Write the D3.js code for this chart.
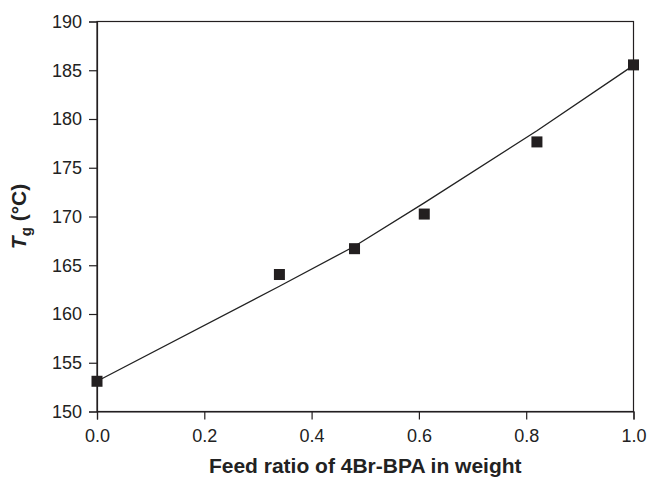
<!DOCTYPE html>
<html>
<head>
<meta charset="utf-8" />
<script src="https://cdn.jsdelivr.net/npm/d3@7"></script>
<style>
  body { margin: 0; background: #fff; }
  text { font-family: "Liberation Sans", Arial, sans-serif; }
</style>
</head>
<body>
<div id="chart"></div>
<script>
// measured values
const feedRatio = [0, 0.34, 0.48, 0.61, 0.82, 1.0];
const tgMeasured = [153.1, 164.05, 166.7, 170.25, 177.65, 185.55];
// fitted curve, evaluated at the same ratios
const tgFit = [153.1, 162.85, 166.95, 171.4, 178.8, 185.5];

const xTicks = [0, 0.2, 0.4, 0.6, 0.8, 1.0];
const yTicks = [150, 155, 160, 165, 170, 175, 180, 185, 190];

const width = 647;
const height = 478;
const margin = { top: 21.5, right: 13.5, bottom: 66.5, left: 97 };

const svg = d3.select("#chart")
    .append("svg")
    .attr("width", width)
    .attr("height", height);

const x = d3.scaleLinear().domain([0, 1]).range([margin.left, width - margin.right]);
const y = d3.scaleLinear().domain([150, 190]).range([height - margin.bottom, margin.top]);

const ink = "#231f20";

// frame
svg.append("rect")
    .attr("x", x(0))
    .attr("y", y(190))
    .attr("width", x(1) - x(0))
    .attr("height", y(150) - y(190))
    .attr("fill", "none")
    .attr("stroke", ink)
    .attr("stroke-width", 1.2);

// axes
const xAxis = svg.append("g")
    .attr("transform", `translate(0, ${y(150)})`)
    .call(d3.axisBottom(x).tickValues(xTicks).tickFormat(d3.format(".1f")).tickSize(8).tickPadding(10));

const yAxis = svg.append("g")
    .attr("transform", `translate(${x(0)}, 0)`)
    .call(d3.axisLeft(y).tickValues(yTicks).tickSize(8).tickPadding(7));

[xAxis, yAxis].forEach(g => {
    g.select(".domain").attr("stroke", ink).attr("stroke-width", 1.2);
    g.selectAll(".tick line").attr("stroke", ink).attr("stroke-width", 1.2);
    g.selectAll(".tick text")
        .attr("fill", "#222")
        .style("font-family", "'Liberation Sans', Arial, sans-serif")
        .style("font-size", "18px");
});

// fitted line
const line = d3.line()
    .x((d, i) => x(feedRatio[i]))
    .y(d => y(d));

svg.append("path")
    .datum(tgFit)
    .attr("d", line)
    .attr("fill", "none")
    .attr("stroke", "#222")
    .attr("stroke-width", 1.3);

// square markers
const size = 11;
svg.selectAll("rect.pt")
    .data(tgMeasured)
    .enter()
    .append("rect")
    .attr("class", "pt")
    .attr("x", (d, i) => x(feedRatio[i]) - size / 2)
    .attr("y", d => y(d) - size / 2)
    .attr("width", size)
    .attr("height", size)
    .attr("fill", ink);

// axis titles
svg.append("text")
    .attr("x", (x(0) + x(1)) / 2)
    .attr("y", 473)
    .attr("text-anchor", "middle")
    .style("font-size", "21px")
    .style("font-weight", "bold")
    .attr("fill", "#222")
    .text("Feed ratio of 4Br-BPA in weight");

const yTitle = svg.append("text")
    .attr("transform", `translate(26, ${(y(150) + y(190)) / 2}) rotate(-90)`)
    .attr("text-anchor", "middle")
    .style("font-size", "21px")
    .style("font-weight", "bold")
    .attr("fill", "#222");
yTitle.append("tspan").style("font-style", "italic").text("T");
yTitle.append("tspan").attr("dy", 5).style("font-size", "15px").text("g");
yTitle.append("tspan").attr("dy", -5).text(" (°C)");
</script>
</body>
</html>
